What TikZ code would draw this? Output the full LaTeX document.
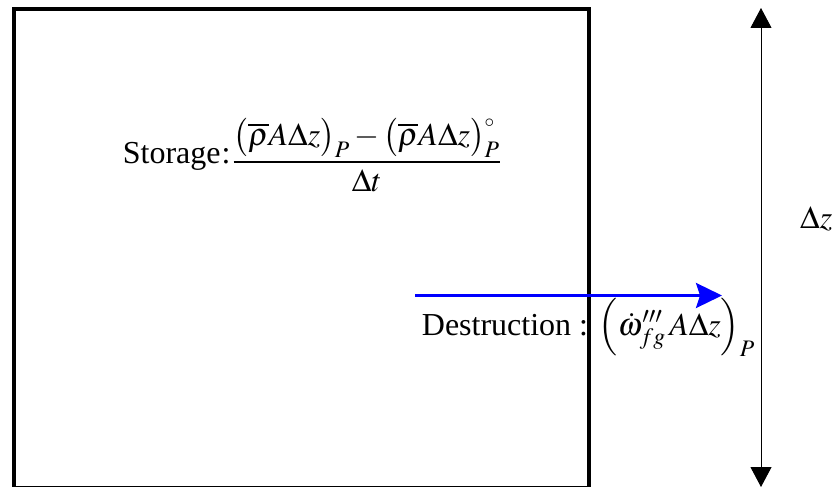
\documentclass[tikz,border=0pt]{standalone}
\usepackage{amsmath}
\usepackage{mathptmx}
\usepackage{fontspec}
\setmainfont{Liberation Serif}
\usetikzlibrary{arrows.meta}
\begin{document}
\begin{tikzpicture}[x=1pt,y=-1pt,
  lbl/.style={inner sep=0pt,anchor=base west,font=\fontsize{32}{38}\selectfont},
  cvbox/.style={draw=black,line width=3.5pt},
  dimarrow/.style={draw=black,line width=1pt,{Triangle[length=20pt,width=21pt]}-{Triangle[length=20pt,width=21pt]}},
  flowarrow/.style={draw={rgb,255:red,0;green,0;blue,255},line width=3pt,-{Stealth[length=26pt,width=25pt,inset=4pt]}}]
\useasboundingbox (0,0) rectangle (833,487);
\node[cvbox,minimum width=575pt,minimum height=478pt,inner sep=0pt,anchor=north west] (cv) at (12,7.5) {};
\coordinate (top) at (761,8);
\coordinate (bot) at (761,487);
\draw[dimarrow] (bot) -- (top);
\node[lbl] (dz) at (800,228.3) {$\Delta z$};
\node[lbl] (stor) at (122.7,163) {Storage\kern1pt:\kern2pt\raisebox{-7pt}{$\dfrac{\bigl(\overline{\rho}A\Delta z\bigr)_P-\bigl(\overline{\rho}A\Delta z\bigr)^{\scriptscriptstyle\circ}_P}{\Delta t}$}};
\coordinate (fs) at (415,295.5);
\coordinate (fe) at (722,295.5);
\draw[flowarrow] (fs) -- (fe);
\node[lbl] (des) at (421.7,335) {Destruction : $\Bigl(\dot{\omega}'''_{fg}\,A\Delta z\Bigr)_P$};
\end{tikzpicture}
\end{document}
